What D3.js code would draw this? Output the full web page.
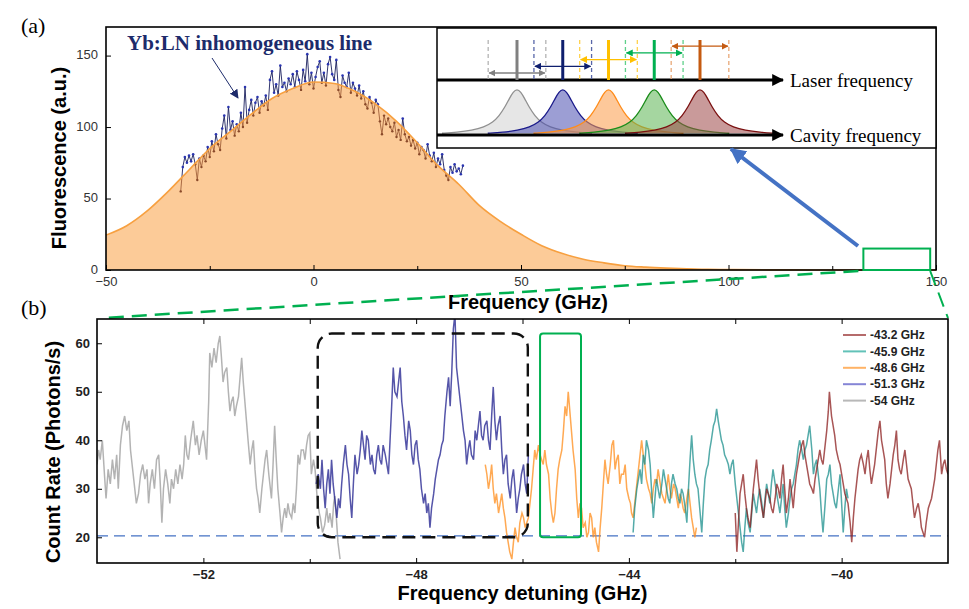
<!DOCTYPE html>
<html>
<head>
<meta charset="utf-8">
<script src="https://cdnjs.cloudflare.com/ajax/libs/d3/7.8.5/d3.min.js"></script>
<style>
body { margin: 0; background: #fff; }
svg { display: block; }
</style>
</head>
<body>
<div id="corpo"></div>
<script>
// ---- (a) fluorescence of the inhomogeneous line ----
var fitCurve = [[-50,24.4],[-45,31],[-40,41.5],[-35,55],[-30,70],[-25,85],[-20,97],[-15,109],[-10,120],[-5,127],
  [0,131.5],[5,130.5],[10,125],[15,116],[20,104],[25,89],[30,73],[35,60],[40,45],[45,34],[50,25],[55,17],
  [60,11.5],[65,7.5],[70,5],[75,3],[80,2],[85,1.3],[90,0.8],[95,0.5],[100,0.3],[110,0.1],[120,0.05],[130,0],[140,0],[150,0]];

var fluorData = [[-32,55],[-31.5,72],[-31,79],[-30.5,75],[-30,80],[-29.5,76],[-29,81],[-28.5,74],[-28,63],[-27.5,78],
  [-27,72],[-26.5,80],[-26,76],[-25.5,86],[-25,79],[-24.5,90],[-24,83],[-23.5,95],[-23,88],[-22.5,84],[-22,99],
  [-21.5,108],[-21,92],[-20.5,114],[-20,98],[-19.5,104],[-19,94],[-18.5,102],[-18,97],[-17.5,110],[-17,100],
  [-16.5,128],[-16,103],[-15.5,112],[-15,119],[-14.5,108],[-14,117],[-13.5,121],[-13,110],[-12.5,118],[-12,115],
  [-11.5,122],[-11,112],[-10.5,133],[-10,139],[-9.5,124],[-9,130],[-8.5,122],[-8,143],[-7.5,128],[-7,131],
  [-6.5,125],[-6,134],[-5.5,130],[-5,137],[-4.5,128],[-4,139],[-3.5,133],[-3,126],[-2.5,140],[-2,132],
  [-1.5,151],[-1,130],[-0.5,138],[0,127],[0.5,135],[1,142],[1.5,146],[2,131],[2.5,138],[3,129],[3.5,144],
  [4,149],[4.5,137],[5,133],[5.5,147],[6,126],[6.5,121],[7,136],[7.5,131],[8,128],[8.5,138],[9,124],[9.5,131],
  [10,127],[10.5,122],[11,129],[11.5,120],[12,125],[12.5,116],[13,113],[13.5,121],[14,117],[14.5,110],[15,119],
  [15.5,116],[16,104],[16.5,95],[17,108],[17.5,102],[18,106],[18.5,100],[19,97],[19.5,103],[20,93],[20.5,98],
  [21,91],[21.5,106],[22,95],[22.5,90],[23,93],[23.5,87],[24,91],[24.5,85],[25,89],[25.5,81],[26,86],[26.5,84],
  [27,78],[27.5,88],[28,80],[28.5,76],[29,82],[29.5,72],[30,78],[30.5,74],[31,81],[31.5,70],[32,66],[32.5,63],
  [33,72],[33.5,68],[34,74],[34.5,69],[35,71],[35.5,67],[36,73]];

var freqTicks = [-50, 0, 50, 100, 150];
var freqMinorTicks = [-25, 25, 75, 125];
var fluorTicks = [0, 50, 100, 150];
var zoomBoxFreq = [132.5, 148.6];
var zoomBoxFluor = [0, 15];

// ---- (b) count rate vs detuning, one scan per cavity frequency ----
var scan54 = [[-54.0,35],[-53.97,38],[-53.94,36],[-53.9,40],[-53.86,33],[-53.83,28],[-53.79,34],[-53.75,31],[-53.71,36],
  [-53.67,32],[-53.63,37],[-53.6,30],[-53.56,39],[-53.52,43],[-53.48,45],[-53.44,42],[-53.4,44],[-53.37,38],[-53.34,35],
  [-53.3,31],[-53.26,27],[-53.22,29],[-53.18,33],[-53.14,35],[-53.1,32],[-53.06,34],[-53.03,27],[-53.0,31],[-52.96,34],
  [-52.92,30],[-52.88,36],[-52.84,37],[-52.81,31],[-52.78,23],[-52.75,30],[-52.71,34],[-52.67,31],[-52.63,27],[-52.6,32],
  [-52.56,30],[-52.52,34],[-52.48,31],[-52.44,35],[-52.4,32],[-52.37,35],[-52.34,41],[-52.31,37],[-52.28,36],[-52.24,40],
  [-52.19,44],[-52.15,39],[-52.12,41],[-52.08,37],[-52.04,40],[-52.0,42],[-51.97,39],[-51.94,36],[-51.9,48],[-51.88,58],
  [-51.84,55],[-51.8,59],[-51.76,56],[-51.72,60],[-51.69,61.5],[-51.66,57],[-51.63,52],[-51.6,54],[-51.56,55],[-51.53,50],
  [-51.5,46],[-51.47,48],[-51.44,49],[-51.41,45],[-51.38,47],[-51.34,49],[-51.31,53],[-51.28,57],[-51.25,52],[-51.22,48],
  [-51.19,44],[-51.16,40],[-51.12,35],[-51.09,38],[-51.06,40],[-51.03,34],[-51.0,30],[-50.97,28],[-50.94,25],[-50.9,30],
  [-50.87,33],[-50.84,36],[-50.81,38],[-50.77,33],[-50.72,28],[-50.69,35],[-50.66,43],[-50.63,36],[-50.6,30],[-50.56,25],
  [-50.53,21],[-50.5,24],[-50.47,26],[-50.44,24],[-50.41,27],[-50.38,25],[-50.34,24],[-50.31,27],[-50.28,25],[-50.25,30],
  [-50.22,37],[-50.19,35],[-50.16,38],[-50.12,38],[-50.09,36],[-50.06,39],[-50.03,41],[-50.0,41.5],[-49.97,33],[-49.93,36],
  [-49.9,34],[-49.86,28],[-49.82,25],[-49.8,24],[-49.76,21],[-49.72,22.5],[-49.68,26],[-49.65,23],[-49.62,25],[-49.58,22],
  [-49.55,27],[-49.53,28.5],[-49.5,24],[-49.47,19],[-49.43,15.5]];

var scan513 = [[-49.88,31],[-49.84,33],[-49.8,30],[-49.77,36],[-49.74,30],[-49.71,26],[-49.68,31],[-49.65,34],[-49.62,29],
  [-49.59,36],[-49.56,31],[-49.52,27],[-49.49,24],[-49.46,28],[-49.43,26],[-49.4,31],[-49.37,35],[-49.33,39],[-49.3,35],
  [-49.27,33],[-49.24,28],[-49.21,24],[-49.18,31],[-49.15,37],[-49.11,33],[-49.08,35],[-49.05,38],[-49.02,42],[-48.99,39],
  [-48.96,36],[-48.93,41],[-48.9,40],[-48.86,35],[-48.83,37],[-48.8,34],[-48.77,33],[-48.74,37],[-48.71,39],[-48.68,36],
  [-48.65,35],[-48.62,39],[-48.58,37],[-48.55,35],[-48.52,33],[-48.49,40],[-48.46,47],[-48.43,55],[-48.4,50],[-48.36,49],
  [-48.33,52],[-48.3,55],[-48.27,48],[-48.24,45],[-48.21,41],[-48.18,38],[-48.14,44],[-48.11,42],[-48.08,37],[-48.05,35],
  [-48.02,39],[-47.99,40],[-47.96,36],[-47.93,34],[-47.9,30],[-47.86,27],[-47.83,29],[-47.8,25],[-47.77,27],[-47.74,22],
  [-47.71,26],[-47.67,29],[-47.64,32],[-47.61,34],[-47.58,36],[-47.55,37],[-47.52,39],[-47.49,40],[-47.46,45],[-47.42,50],
  [-47.39,53],[-47.36,47],[-47.33,54],[-47.3,63],[-47.27,66],[-47.24,55],[-47.21,52],[-47.17,48],[-47.14,45],[-47.11,42],
  [-47.08,40],[-47.05,35],[-47.02,38],[-46.99,40],[-46.96,37],[-46.92,36],[-46.89,42],[-46.86,40],[-46.83,43],[-46.8,46],
  [-46.77,41],[-46.74,40],[-46.71,43],[-46.67,44],[-46.64,40],[-46.61,38],[-46.58,45],[-46.55,51],[-46.52,44],[-46.49,40],
  [-46.46,43],[-46.42,45],[-46.39,38],[-46.36,33],[-46.33,36],[-46.3,37],[-46.27,31],[-46.23,28],[-46.2,32],[-46.17,34],
  [-46.14,30],[-46.11,25],[-46.08,28],[-46.05,30],[-46.02,33],[-45.98,35],[-45.95,31],[-45.92,29],[-45.89,37]];

var scan486 = [[-46.7,35],[-46.67,33],[-46.64,30],[-46.61,32],[-46.58,35],[-46.55,30],[-46.52,27],[-46.49,29],[-46.45,25],
  [-46.42,27],[-46.39,29],[-46.36,26],[-46.33,24],[-46.3,21],[-46.27,19],[-46.24,17],[-46.2,15.5],[-46.17,19],[-46.14,22],
  [-46.11,20],[-46.08,19],[-46.05,23],[-46.01,25],[-45.98,24],[-45.95,22],[-45.92,23],[-45.89,24],[-45.86,27],[-45.83,30],
  [-45.8,34],[-45.77,38],[-45.74,36],[-45.7,39],[-45.67,37],[-45.64,36],[-45.61,35],[-45.58,38],[-45.55,35],[-45.51,33],
  [-45.48,28],[-45.45,25],[-45.42,23],[-45.39,25],[-45.36,30],[-45.33,34],[-45.3,36],[-45.26,38],[-45.23,42],[-45.2,47],
  [-45.17,45],[-45.14,50],[-45.11,46],[-45.08,42],[-45.05,38],[-45.01,34],[-44.98,28],[-44.95,24],[-44.92,27],[-44.89,26],
  [-44.86,22],[-44.82,23],[-44.79,20],[-44.76,21],[-44.73,25],[-44.7,24],[-44.67,20],[-44.64,22],[-44.61,19],[-44.57,17],
  [-44.54,22],[-44.51,26],[-44.48,31],[-44.45,36],[-44.42,33],[-44.39,31],[-44.35,35],[-44.32,39],[-44.29,40],[-44.26,34],
  [-44.23,36],[-44.2,37],[-44.17,31],[-44.14,33],[-44.1,33],[-44.07,35],[-44.04,30],[-44.0,28],[-43.97,27],[-43.95,25],
  [-43.92,24],[-43.89,27],[-43.85,31],[-43.82,34],[-43.79,37],[-43.76,40],[-43.73,37],[-43.7,35],[-43.67,32],[-43.63,30],
  [-43.6,29],[-43.57,27],[-43.54,30],[-43.51,32],[-43.48,31],[-43.45,34],[-43.41,31],[-43.38,29],[-43.35,28],[-43.32,27],
  [-43.29,30],[-43.26,33],[-43.23,30],[-43.2,28],[-43.16,31],[-43.13,30],[-43.1,28],[-43.07,26],[-43.04,29],[-43.01,28],
  [-42.98,26],[-42.95,25],[-42.91,28],[-42.88,30],[-42.85,27],[-42.82,24],[-42.79,22],[-42.76,20],[-42.73,22]];

var scan459 = [[-43.92,21],[-43.89,26],[-43.85,30],[-43.82,32],[-43.79,34],[-43.76,31],[-43.73,37],[-43.7,35],[-43.67,40],
  [-43.63,38],[-43.6,35],[-43.57,29],[-43.54,24],[-43.51,28],[-43.48,32],[-43.45,30],[-43.42,28],[-43.38,31],[-43.35,34],
  [-43.32,32],[-43.29,30],[-43.26,28],[-43.23,27],[-43.2,31],[-43.17,33],[-43.13,31],[-43.1,30],[-43.07,28],[-43.04,27],
  [-43.01,30],[-42.98,29],[-42.94,26],[-42.91,23],[-42.88,30],[-42.85,36],[-42.82,41],[-42.79,36],[-42.76,33],[-42.73,31],
  [-42.7,30],[-42.66,25],[-42.63,21],[-42.6,27],[-42.57,32],[-42.54,34],[-42.51,35],[-42.48,38],[-42.45,40],[-42.41,43],
  [-42.38,44],[-42.35,46.5],[-42.32,44],[-42.29,42],[-42.26,40],[-42.23,39],[-42.2,37],[-42.16,36],[-42.13,35],[-42.1,33],
  [-42.07,35],[-42.04,36],[-42.0,31],[-41.97,28],[-41.94,25],[-41.91,22],[-41.88,19],[-41.85,17],[-41.82,22],[-41.79,26],
  [-41.76,23],[-41.72,21],[-41.69,25],[-41.66,29],[-41.63,27],[-41.6,25],[-41.57,28],[-41.54,30],[-41.5,27],[-41.47,24],
  [-41.44,28],[-41.41,31],[-41.38,29],[-41.35,27],[-41.32,31],[-41.29,34],[-41.25,31],[-41.22,29],[-41.19,27],[-41.16,25],
  [-41.13,28],[-41.1,31],[-41.07,26],[-41.04,22],[-41.0,25],[-40.97,28],[-40.94,30],[-40.91,31],[-40.88,33],[-40.85,35],
  [-40.82,38],[-40.79,40],[-40.75,38],[-40.72,36],[-40.69,38],[-40.66,39],[-40.63,41],[-40.6,43],[-40.56,38],[-40.53,33],
  [-40.5,35],[-40.47,36],[-40.44,33],[-40.41,30],[-40.38,25],[-40.35,21],[-40.31,27],[-40.28,32],[-40.25,33],[-40.22,35],
  [-40.19,31],[-40.16,29],[-40.13,27],[-40.1,26],[-40.06,30],[-40.03,33],[-40.0,27],[-39.97,21],[-39.94,26],[-39.91,30],[-39.88,28]];

var scan432 = [[-42.0,25],[-41.97,17],[-41.94,23],[-41.91,29],[-41.88,31],[-41.85,33],[-41.82,29],[-41.79,26],[-41.76,24],
  [-41.72,22],[-41.69,26],[-41.66,30],[-41.63,33],[-41.6,36],[-41.57,32],[-41.54,29],[-41.5,26],[-41.47,24],[-41.44,27],
  [-41.41,30],[-41.38,29],[-41.35,28],[-41.32,26],[-41.29,25],[-41.25,28],[-41.22,31],[-41.19,30],[-41.16,28],[-41.13,32],
  [-41.1,35],[-41.07,30],[-41.04,25],[-41.0,28],[-40.97,32],[-40.94,29],[-40.91,26],[-40.88,30],[-40.85,33],[-40.82,35],
  [-40.79,37],[-40.75,39],[-40.72,40],[-40.69,37],[-40.66,35],[-40.63,33],[-40.6,31],[-40.56,30],[-40.53,29],[-40.5,32],
  [-40.47,34],[-40.44,36],[-40.41,38],[-40.38,36],[-40.35,35],[-40.31,39],[-40.28,42],[-40.25,46],[-40.23,50],[-40.19,45],
  [-40.16,43],[-40.13,41],[-40.1,38],[-40.06,36],[-40.03,35],[-40.0,33],[-39.97,31],[-39.94,29],[-39.91,28],[-39.88,27],
  [-39.84,23],[-39.81,19],[-39.78,24],[-39.75,28],[-39.72,31],[-39.69,34],[-39.66,36],[-39.63,37],[-39.59,35],[-39.56,33],
  [-39.53,36],[-39.5,38],[-39.47,34],[-39.44,31],[-39.41,33],[-39.38,35],[-39.34,39],[-39.31,42],[-39.28,44],[-39.25,40],
  [-39.22,38],[-39.19,36],[-39.16,31],[-39.13,28],[-39.09,31],[-39.06,34],[-39.03,37],[-39.0,39],[-38.97,42],[-38.94,36],
  [-38.91,34],[-38.88,33],[-38.84,36],[-38.81,38],[-38.78,35],[-38.75,32],[-38.72,31],[-38.69,30],[-38.66,27],[-38.63,24],
  [-38.59,26],[-38.56,27],[-38.53,25],[-38.5,22],[-38.47,21],[-38.44,20],[-38.41,23],[-38.37,26],[-38.34,27],[-38.31,28],
  [-38.28,30],[-38.25,32],[-38.22,35],[-38.19,38],[-38.16,40],[-38.12,33],[-38.09,35],[-38.06,36],[-38.03,34],[-38.0,33]];

var scanLabels = ["-43.2 GHz", "-45.9 GHz", "-48.6 GHz", "-51.3 GHz", "-54 GHz"];
var detuningTicks = [-52, -48, -44, -40];
var detuningMinorTicks = [-50, -46, -42];
var countTicks = [20, 30, 40, 50, 60];
var baselineCount = 20.3;
var blackBoxDetuning = [-49.85, -45.9];
var greenBoxDetuning = [-45.67, -44.9];
var boxCounts = [20, 62];

// inset schematic: five laser / cavity positions
var insetSteps = [0, 1, 2, 3, 4];
var peakProfile = [[-5,0.038],[-4,0.059],[-3,0.1],[-2.2,0.17],[-1.6,0.28],[-1.2,0.41],[-0.8,0.61],[-0.5,0.8],[-0.25,0.94],
  [0,1],[0.25,0.94],[0.5,0.8],[0.8,0.61],[1.2,0.41],[1.6,0.28],[2.2,0.17],[3,0.1],[4,0.059],[5,0.038]];

var svg = d3.select("#corpo").append("svg")
    .attr("width", 969)
    .attr("height", 609)
    .style("font-family", "Arial, 'Liberation Sans', sans-serif");

var defs = svg.append("defs");

function colorScan(i) {
    var colors = ["#8b1c1c", "#1b8f8c", "#ff8c1a", "#1c1c8c", "#9a9a9a"];
    return colors[i];
}
function colorKey(i) {
    var colors = ["#b56b6b", "#62c2b8", "#ffb366", "#8585d6", "#b8b8b8"];
    return colors[i];
}
function colorLaser(i) {
    var colors = ["#808080", "#0f1f6e", "#ffc000", "#00b050", "#c55a11"];
    return colors[i];
}
function colorLaserSoft(i) {
    var colors = ["#b3b3b3", "#5866a8", "#ffd24d", "#5fd08a", "#e8a878"];
    return colors[i];
}
function colorPeak(i) {
    return { fill: ["#d1d1d1", "#4a4fb0", "#fb9b47", "#5bb452", "#9c4747"][i],
             stroke: ["#909090", "#1a1a8a", "#ff8c1a", "#1a8c1a", "#7a1010"][i] };
}

function marker(id, color, size) {
    defs.append("marker")
        .attr("id", id)
        .attr("viewBox", "0 0 10 10")
        .attr("refX", 9).attr("refY", 5)
        .attr("markerWidth", size).attr("markerHeight", size)
        .attr("markerUnits", "userSpaceOnUse")
        .attr("orient", "auto-start-reverse")
        .append("path")
        .attr("d", "M0,0 L10,5 L0,10 Z")
        .attr("fill", color);
}

/* ================= panel (a) ================= */
var x1 = d3.scaleLinear().domain([-50, 150]).range([106, 936]);
var y1 = d3.scaleLinear().domain([0, 170]).range([270, 27]);

var area = d3.area()
    .x(function(d) { return x1(d[0]); })
    .y0(y1(0))
    .y1(function(d) { return y1(d[1]); })
    .curve(d3.curveMonotoneX);

var fitLine = d3.line()
    .x(function(d) { return x1(d[0]); })
    .y(function(d) { return y1(d[1]); })
    .curve(d3.curveMonotoneX);

var dataLine = d3.line()
    .x(function(d) { return x1(d[0]); })
    .y(function(d) { return y1(d[1]); });

var pa = svg.append("g");

pa.append("path")
    .attr("d", area(fitCurve))
    .attr("fill", "#fccb98");

// data above the fit: navy
pa.append("path")
    .attr("d", dataLine(fluorData))
    .attr("fill", "none")
    .attr("stroke", "#1a1f5e")
    .attr("stroke-width", 0.9);
pa.selectAll(".dotTop").data(fluorData).enter().append("circle")
    .attr("cx", function(d) { return x1(d[0]); })
    .attr("cy", function(d) { return y1(d[1]); })
    .attr("r", 1.3)
    .attr("fill", "#2a35b0");

// data under the fit looks brown
defs.append("clipPath").attr("id", "underFit")
    .append("path").attr("d", area(fitCurve));
var under = pa.append("g").attr("clip-path", "url(#underFit)");
under.append("rect")
    .attr("x", x1(-50)).attr("y", y1(170))
    .attr("width", x1(150) - x1(-50)).attr("height", y1(0) - y1(170))
    .attr("fill", "#fccb98");
under.append("path")
    .attr("d", dataLine(fluorData))
    .attr("fill", "none")
    .attr("stroke", "#a0603a")
    .attr("stroke-width", 0.9);
under.selectAll(".dotLow").data(fluorData).enter().append("circle")
    .attr("cx", function(d) { return x1(d[0]); })
    .attr("cy", function(d) { return y1(d[1]); })
    .attr("r", 1.2)
    .attr("fill", "#8a4a2a");

pa.append("path")
    .attr("d", fitLine(fitCurve))
    .attr("fill", "none")
    .attr("stroke", "#f7a040")
    .attr("stroke-width", 1.6);

// axes (a)
pa.append("g")
    .attr("transform", "translate(0," + y1(0) + ")")
    .call(d3.axisBottom(x1).tickValues(freqTicks).tickSizeInner(-5).tickSizeOuter(0).tickPadding(7))
    .call(function(g) {
        g.select(".domain").remove();
        g.selectAll("text").attr("font-size", 13).attr("fill", "#333").attr("font-family", "Arial, 'Liberation Sans', sans-serif");
    });
pa.append("g")
    .attr("transform", "translate(0," + y1(0) + ")")
    .call(d3.axisBottom(x1).tickValues(freqMinorTicks).tickSizeInner(-4).tickSizeOuter(0).tickFormat(""))
    .call(function(g) { g.select(".domain").remove(); });
pa.append("g")
    .attr("transform", "translate(" + x1(-50) + ",0)")
    .call(d3.axisLeft(y1).tickValues(fluorTicks).tickSizeInner(-5).tickSizeOuter(0).tickPadding(8))
    .call(function(g) {
        g.select(".domain").remove();
        g.selectAll("text").attr("font-size", 13).attr("fill", "#333").attr("dy", "0.25em")
            .attr("font-family", "Arial, 'Liberation Sans', sans-serif");
    });

pa.append("rect")
    .attr("x", x1(-50)).attr("y", y1(170))
    .attr("width", x1(150) - x1(-50)).attr("height", y1(0) - y1(170))
    .attr("fill", "none").attr("stroke", "#000").attr("stroke-width", 1.6);

pa.append("text")
    .attr("x", 528).attr("y", 309)
    .attr("text-anchor", "middle")
    .attr("font-size", 20).attr("font-weight", "bold")
    .text("Frequency (GHz)");
pa.append("text")
    .attr("transform", "translate(66,158) rotate(-90)")
    .attr("text-anchor", "middle")
    .attr("font-size", 20).attr("font-weight", "bold")
    .text("Fluorescence (a.u.)");

pa.append("text")
    .attr("x", 127).attr("y", 50)
    .attr("font-family", "'Liberation Serif', 'Times New Roman', serif")
    .attr("font-size", 21).attr("font-weight", "bold")
    .attr("fill", "#1d2b6b")
    .text("Yb:LN inhomogeneous line");
marker("arrNavy", "#1d2b6b", 9);
pa.append("line")
    .attr("x1", 212).attr("y1", 58).attr("x2", 238).attr("y2", 98)
    .attr("stroke", "#1d2b6b").attr("stroke-width", 1)
    .attr("marker-end", "url(#arrNavy)");

pa.append("text")
    .attr("x", 21).attr("y", 33)
    .attr("font-family", "'Liberation Serif', 'Times New Roman', serif")
    .attr("font-size", 22)
    .text("(a)");

// zoom box (green)
pa.append("rect")
    .attr("x", x1(zoomBoxFreq[0])).attr("y", y1(zoomBoxFluor[1]))
    .attr("width", x1(zoomBoxFreq[1]) - x1(zoomBoxFreq[0]))
    .attr("height", y1(zoomBoxFluor[0]) - y1(zoomBoxFluor[1]))
    .attr("fill", "none").attr("stroke", "#00b050").attr("stroke-width", 2);

/* ================= inset ================= */
var inset = svg.append("g");
inset.append("rect")
    .attr("x", 437).attr("y", 28).attr("width", 499).attr("height", 120)
    .attr("fill", "#fff").attr("stroke", "#000").attr("stroke-width", 1.5);

var xi = d3.scaleLinear().domain([0, 4]).range([517, 700]);
var laserY = 80, cavityY = 135;

// cavity peaks
var peakLine = d3.line()
    .x(function(d) { return d[0]; })
    .y(function(d) { return d[1]; })
    .curve(d3.curveBasis);
insetSteps.forEach(function(s) {
    var pts = peakProfile.map(function(p) {
        return [xi(s) + p[0] * 15, cavityY - p[1] * 46];
    });
    var c = colorPeak(s);
    inset.append("path")
        .attr("d", peakLine(pts) + "Z")
        .attr("fill", c.fill).attr("fill-opacity", 0.55)
        .attr("stroke", "none");
    inset.append("path")
        .attr("d", peakLine(pts))
        .attr("fill", "none")
        .attr("stroke", c.stroke).attr("stroke-width", 1.3);
});

marker("arrBlack", "#000", 12);
inset.append("line")
    .attr("x1", 437).attr("y1", laserY).attr("x2", 783).attr("y2", laserY)
    .attr("stroke", "#000").attr("stroke-width", 3)
    .attr("marker-end", "url(#arrBlack)");
inset.append("line")
    .attr("x1", 437).attr("y1", cavityY).attr("x2", 783).attr("y2", cavityY)
    .attr("stroke", "#000").attr("stroke-width", 3)
    .attr("marker-end", "url(#arrBlack)");

// laser lines, scan range markers
insetSteps.forEach(function(s) {
    var cx = xi(s), half = xi(0.63) - xi(0);
    var ay = 73 - s * 6.7;
    [cx - half, cx + half].forEach(function(dx) {
        inset.append("line")
            .attr("x1", dx).attr("x2", dx).attr("y1", 40).attr("y2", laserY)
            .attr("stroke", colorLaserSoft(s)).attr("stroke-width", 1.3)
            .attr("stroke-dasharray", "4,3");
    });
    marker("arrL" + s, colorLaser(s), 7);
    inset.append("line")
        .attr("x1", cx - half + 1).attr("x2", cx + half - 1).attr("y1", ay).attr("y2", ay)
        .attr("stroke", colorLaser(s)).attr("stroke-width", 1.3)
        .attr("marker-start", "url(#arrL" + s + ")")
        .attr("marker-end", "url(#arrL" + s + ")");
    inset.append("line")
        .attr("x1", cx).attr("x2", cx).attr("y1", 40).attr("y2", laserY)
        .attr("stroke", colorLaser(s)).attr("stroke-width", 3);
});

inset.append("text")
    .attr("x", 790).attr("y", 87)
    .attr("font-family", "'Liberation Serif', 'Times New Roman', serif")
    .attr("font-size", 19)
    .text("Laser frequency");
inset.append("text")
    .attr("x", 790).attr("y", 142)
    .attr("font-family", "'Liberation Serif', 'Times New Roman', serif")
    .attr("font-size", 19)
    .text("Cavity frequency");

// big blue pointer
marker("arrBlue", "#4472c4", 16);
svg.append("line")
    .attr("x1", 858).attr("y1", 246).attr("x2", 731).attr("y2", 149)
    .attr("stroke", "#4472c4").attr("stroke-width", 4)
    .attr("marker-end", "url(#arrBlue)");

/* ================= panel (b) ================= */
var x2 = d3.scaleLinear().domain([-54, -38]).range([97, 948]);
var y2 = d3.scaleLinear().domain([14.7, 65]).range([563, 319]);

// connector lines from zoom box
svg.append("line")
    .attr("x1", x1(zoomBoxFreq[0]) - 5).attr("y1", y1(0) + 1)
    .attr("x2", x2(-54) + 6).attr("y2", y2(65) - 1)
    .attr("stroke", "#00b050").attr("stroke-width", 2.5).attr("stroke-dasharray", "15,8");
svg.append("line")
    .attr("x1", x1(zoomBoxFreq[1])).attr("y1", y1(0) + 1)
    .attr("x2", x2(-38)).attr("y2", y2(65) - 1)
    .attr("stroke", "#00b050").attr("stroke-width", 2).attr("stroke-dasharray", "15,8");

var pb = svg.append("g");
defs.append("clipPath").attr("id", "plotB")
    .append("rect")
    .attr("x", x2(-54)).attr("y", y2(65))
    .attr("width", x2(-38) - x2(-54)).attr("height", y2(14.7) - y2(65));

var scanLine = d3.line()
    .x(function(d) { return x2(d[0]); })
    .y(function(d) { return y2(d[1]); });

var scans = [scan432, scan459, scan486, scan513, scan54];
var traces = pb.append("g").attr("clip-path", "url(#plotB)");

traces.append("line")
    .attr("x1", x2(-54)).attr("x2", x2(-38))
    .attr("y1", y2(baselineCount)).attr("y2", y2(baselineCount))
    .attr("stroke", "#4472c4").attr("stroke-width", 1.4)
    .attr("stroke-dasharray", "11,6");

[4, 3, 2, 1, 0].forEach(function(i) {
    traces.append("path")
        .attr("d", scanLine(scans[i]))
        .attr("fill", "none")
        .attr("stroke", colorScan(i))
        .attr("stroke-opacity", 0.75)
        .attr("stroke-width", 1.5);
});

// highlight boxes
pb.append("rect")
    .attr("x", x2(blackBoxDetuning[0])).attr("y", y2(boxCounts[1]))
    .attr("width", x2(blackBoxDetuning[1]) - x2(blackBoxDetuning[0]))
    .attr("height", y2(boxCounts[0]) - y2(boxCounts[1]))
    .attr("rx", 14)
    .attr("fill", "none").attr("stroke", "#111").attr("stroke-width", 2.4)
    .attr("stroke-dasharray", "13,7");
pb.append("rect")
    .attr("x", x2(greenBoxDetuning[0])).attr("y", y2(boxCounts[1]))
    .attr("width", x2(greenBoxDetuning[1]) - x2(greenBoxDetuning[0]))
    .attr("height", y2(boxCounts[0]) - y2(boxCounts[1]))
    .attr("rx", 3)
    .attr("fill", "none").attr("stroke", "#00b050").attr("stroke-width", 2);

// axes (b)
pb.append("g")
    .attr("transform", "translate(0," + y2(14.7) + ")")
    .call(d3.axisBottom(x2).tickValues(detuningTicks).tickSizeInner(-5).tickSizeOuter(0).tickPadding(7))
    .call(function(g) {
        g.select(".domain").remove();
        g.selectAll("text").attr("font-size", 13).attr("font-weight", "bold").attr("fill", "#222")
            .attr("font-family", "Arial, 'Liberation Sans', sans-serif");
    });
pb.append("g")
    .attr("transform", "translate(0," + y2(14.7) + ")")
    .call(d3.axisBottom(x2).tickValues(detuningMinorTicks).tickSizeInner(-4).tickSizeOuter(0).tickFormat(""))
    .call(function(g) { g.select(".domain").remove(); });
pb.append("g")
    .attr("transform", "translate(0," + y2(65) + ")")
    .call(d3.axisTop(x2).tickValues(detuningTicks.concat(detuningMinorTicks)).tickSizeInner(-5).tickSizeOuter(0).tickFormat(""))
    .call(function(g) { g.select(".domain").remove(); });
pb.append("g")
    .attr("transform", "translate(" + x2(-54) + ",0)")
    .call(d3.axisLeft(y2).tickValues(countTicks).tickSizeInner(-5).tickSizeOuter(0).tickPadding(7))
    .call(function(g) {
        g.select(".domain").remove();
        g.selectAll("text").attr("font-size", 13).attr("font-weight", "bold").attr("fill", "#222")
            .attr("font-family", "Arial, 'Liberation Sans', sans-serif");
    });

pb.append("rect")
    .attr("x", x2(-54)).attr("y", y2(65))
    .attr("width", x2(-38) - x2(-54)).attr("height", y2(14.7) - y2(65))
    .attr("fill", "none").attr("stroke", "#000").attr("stroke-width", 1.6);

pb.append("text")
    .attr("x", (x2(-54) + x2(-38)) / 2).attr("y", 600)
    .attr("text-anchor", "middle")
    .attr("font-size", 20).attr("font-weight", "bold")
    .text("Frequency detuning (GHz)");
pb.append("text")
    .attr("transform", "translate(60,452) rotate(-90)")
    .attr("text-anchor", "middle")
    .attr("font-size", 20).attr("font-weight", "bold")
    .text("Count Rate (Photons/s)");

pb.append("text")
    .attr("x", 21).attr("y", 315)
    .attr("font-family", "'Liberation Serif', 'Times New Roman', serif")
    .attr("font-size", 22)
    .text("(b)");

// legend
var legend = pb.append("g").attr("transform", "translate(843,335)");
var keys = legend.selectAll(".key").data(scanLabels).enter().append("g")
    .attr("transform", function(d, i) { return "translate(0," + i * 16.4 + ")"; });
keys.append("line")
    .attr("x1", 0).attr("x2", 23)
    .attr("stroke", function(d, i) { return colorKey(i); })
    .attr("stroke-width", 2);
keys.append("text")
    .attr("x", 27).attr("dy", "0.35em")
    .attr("font-size", 12).attr("font-weight", "bold").attr("fill", "#222")
    .text(function(d) { return d; });
</script>
</body>
</html>
